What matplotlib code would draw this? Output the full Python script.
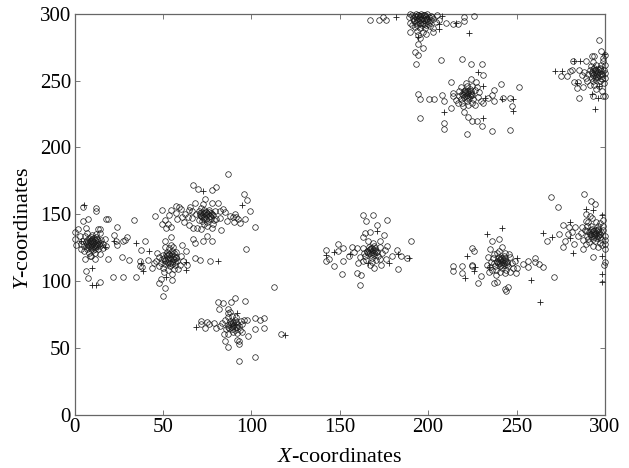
import numpy as np
import matplotlib
matplotlib.use('Agg')
import matplotlib.pyplot as plt

plt.rcParams['font.family'] = ['Liberation Serif', 'DejaVu Serif']
plt.rcParams['mathtext.fontset'] = 'custom'
plt.rcParams['mathtext.it'] = 'Liberation Serif:italic'
plt.rcParams['mathtext.rm'] = 'Liberation Serif'

# circles, one list per cluster
cluster_a = [(4.7,155.5),(11.9,154.7),(11.9,152.4),(4.7,144.7),(7.7,146.4),(17.9,146.4),(18.9,146.4),(23.8,140.4),
    (33.8,145.4),(0.4,136.6),(1.7,138.6),(6.6,139.6),(13.2,139.1),(14.5,138.9),(22.6,134.1),(29.8,132.8),(28.3,130.8),
    (27.7,129.6),(23.6,129.8),(24,126.6),(0.4,131.6),(0.6,126.6),(39.6,129.6),(37.7,123.3),(26.8,118.3),(30.7,115.5),
    (18.7,116.3),(5.8,116.3),(11.5,116.5),(8.5,118.5),(6.6,107.2),(7.7,102.2),(14.5,99.2),(21.9,103.2),(27.7,103.2),(34.7,103.2),
    (36.8,114.8),(36.8,111.5),(38.1,110.2),(41.5,115.8),
    (10.4,128.3),(9.5,127.5),(11.2,129.4),(8.8,129.8),(12.3,127.1),(10.1,130.6),(7.9,127.2),(11.8,125.6),(9.2,125.2),(13.4,129.2),
    (6.5,129.4),(10.8,132.5),(8.2,132.1),(14.2,126.4),(5.6,126.2),(12.6,131.8),(7.2,124.3),(10.4,123.4),(15.1,130.5),(4.4,130.2),
    (13.3,123.8),(6.1,133.4),(9.8,134.8),(15.9,127.8),(3.4,127.6),(12.4,134.9),(16.2,124.6),(5.2,122.7),(8.4,121.2),(11.7,120.9),
    (3.8,123.9),(14.2,135.8),(7.1,136.1),(17.3,131.8),(2.9,133.6),(14.4,120.2),(9.3,119.1),(17.8,126.2)]
core_a = [(8.5,128.9),(11,126.2),(9.1,130.3),(12.7,127.8),(7.8,129.3),(10.1,131.2),(11.6,130.9),(8.1,125.9),(12.5,125.9),(10.4,125.1),
    (13.6,127.8),(6.9,127.8),(13.2,130.6),(7.2,130.9),(9.6,124.1),(11.6,123.9),(6.8,125.3),(14.6,128.6),(9.4,132.9),(12.4,133)]
cluster_b = [(50.9,130.3),(54.7,132.8),(60.9,126.6),(67,131.6),(67.9,128.3),(62.8,122.8),(72.6,129.8),(75.1,133.6),(77.9,130.3),
    (67.9,117.3),(70.9,115.5),(76.8,115.3),(96.8,123.6),(49,101.2),(47.7,98.2),(54.9,100.4),(50.9,94.4),(50,89.1),
    (53.8,117.3),(52.9,116.4),(54.8,118.4),(52.2,118.8),(55.6,116.2),(53.4,120.2),(51.1,115.7),(56.4,119.1),(53.1,114.3),(55.2,113.9),
    (50.2,119.6),(57.6,117),(52.4,122),(55.1,122.4),(49.4,116.6),(58.2,114.8),(51.2,112.6),(54.2,111.6),(47.6,118.2),(57.2,121.6),
    (48.8,113.7),(56.8,111.7),(53.3,124.4),(55.8,125.3),(51.4,125.6),(46.2,115.3),(59.4,112),(60.3,118.4),(49.8,109.8),(53,108.2),
    (56.2,108.8),(58.7,109),(46.7,121),(44.8,113.2),(43.6,109.8),(50.6,106.8),(55.3,105.5),(61.4,115),(63.4,112.3),(47.8,110.9),(54.5,127)]
core_b = [(52.5,119.4),(56.2,116.8),(51.2,115.1),(53.6,120.4),(55.1,120.1),(51.5,120.2),(56.7,114.4),(53.8,113.4),(57.2,118.1),(50.4,117.5),
    (56.4,120.7),(52.8,113.2),(55.4,112.6)]
cluster_c = [(67,171.8),(69.8,168.8),(77.9,168),(79.8,170.5),(86.8,179.8),(96,165.5),(97.5,160.5),(96.2,146.7),(45.8,148.7),(49.6,153.4),
    (51,145.4),(49.2,142.5),(52.8,143),(51.8,139.8),(54.7,140.5),(57.5,156),(59,155.5),(54.7,153.5),(57.5,151),(53.3,149.2),
    (60.5,154),(62.5,150.5),(64.5,153),(66.7,147),(61.8,144),(65,142),(67,139.6),(69.5,139.4),(71.5,138.9),(73,142.5),(77.5,139.5),
    (83,138.5),(68,158.5),(72.5,157.5),(77.6,158.2),(81,158.5),(74,161.5),(85,151.5),(88,149),(89.5,148),(91.2,147.7),(92.7,146.8),
    (86,145),(90,144.5),(93.5,143.2),(80,146.5),(82.5,147),(70.3,145.5),(68.5,150.2),(70.2,152.2),
    (74.5,149.2),(73.5,148.2),(75.5,150.2),(72.8,150.4),(76.4,148.4),(74.2,151.5),(71.9,147.6),(77.1,151.1),(74.4,146.8),(76.1,146.4),
    (70.8,149.4),(78.5,149.2),(73.2,153.5),(76,153.4),(72,145.2),(78.8,145.8),(75,144.2),(79.4,152.4),(71.6,154.7),(66.5,152.8),(64,147.8),
    (60.8,148),(58.2,146.5),(82,152.5),(84.2,154),(102,140.5),(99.5,152.5),(91,150.5),(65.5,155.5),(78.5,142.5),(75,141.2)]
core_c = [(73.4,151.2),(76.9,148.9),(71.8,148.5),(74.6,152),(76.1,151.9),(72.3,152),(77.4,147.2),(73.5,146.3),(78,150.2),(71,150.6)]
cluster_d = [(113,95.2),(90.9,87.2),(96.7,85.2),(88.6,83.9),(80.9,83.9),(83.7,83.2),(81.8,79.2),(86.9,78.9),(87.7,77.1),(86.7,76.4),
    (71.6,70.1),(71.6,67.6),(74.9,69.4),(76,68.1),(73.9,65.1),(78.8,68.9),(97.7,71.1),(102,72.1),(104.7,71.1),(106.9,72.1),
    (102,64),(106.9,65.1),(97.9,58.8),(116.9,60),(84.9,55),(86.9,50.8),(91.8,55.8),(92.8,55),(92.8,52.5),(101.8,43),(92.8,40),
    (89.6,66.3),(88.9,65.4),(90.4,67.4),(88.2,67.8),(91.2,65.2),(89.4,68.9),(87.5,65),(91.9,68.1),(89.2,63.8),(90.8,63.5),
    (86.6,67.2),(92.8,66),(88,70.4),(91,70.7),(85.5,63.8),(93.6,63.1),(89.5,61.5),(92,61),(86.7,60.5),(84.3,60.2),
    (94,70.2),(95,67.7),(85.3,71),(82.2,66.2),(80.3,64.5),(83.6,68.6),(87,72.8),(89.3,73.5),(91.4,73.2),(94.8,61.5),(96,70.8)]
core_d = [(88.5,68.2),(91.9,65.9),(87,65.9),(89.9,69.2),(91.2,69)]
cluster_e = [(149.1,127.5),(151.9,124.5),(149.1,122.3),(142.1,123.5),(142.1,115.2),(144,116.2),(152.1,115.2),(147,111.2),(151,105.2),
    (157,125.3),(155.1,118.5),(159.5,124.8),(158,121.5),(160.2,113.2),(160,106.2),(162.1,104.2),(161.2,97.1),(169.5,109.5),(173.2,112.2),
    (183.2,109.2),(182.1,123.3),(184.6,118.8),(187.8,117.5),(179.3,118.5),(163,149.7),(169,149.7),(165.1,144.6),(177,145.6),(171,141.6),
    (167.2,136.6),(164.2,135.8),(162.9,133.3),(174.9,134.6),(165.9,129.8),(169,128.3),(173,129.6),(177,126.3),(190.2,130.3),
    (168,122),(167.2,121.2),(168.8,123),(166.8,123.2),(169.5,121),(167.8,124.5),(166,120.6),(170.2,123.5),(167.7,119.6),(169.2,119.3),
    (165.2,122.4),(171,122),(166.6,125.8),(169.5,126),(164.4,118.8),(171.4,118.8),(168,117.2),(172.5,125.2),(163.4,124.5),(163.5,120.7),
    (174,120.8),(165,116),(170.7,115.6),(175.6,123),(161.5,118),(176,116.6),(168.5,114.5),(167,112.3),(172.5,116.5),(163,115.2)]
core_e = [(167,124),(170.3,121.6),(165.6,121.9),(168.4,125),(169.9,124.9)]
cluster_f = [(167,295.6),(172.1,295.6),(174.2,298.1),(176,295.6),(190,300),(190,293),(190,286.8),(195.3,282.3),(194.2,277.8),(197,274.5),
    (192.8,271.8),(194.2,269.2),(193.2,262.5),(203,289.8),(203,286.6),(199,285.3),(210,293.6),(214.2,292.6),(217,292.6),(220.2,294.4),
    (220.2,297.6),(226,298.6),(196.2,296.1),(195.4,295.3),(197,297),(195,297.3),(197.8,295.2),(195.6,298.4),(193.8,295),(198.6,297.8),
    (195.2,293.6),(197,293.3),(193,297.4),(199.6,296),(194.5,299.4),(197.6,299.5),(192.2,294.8),(200.6,294),(193.8,292),(196.4,291.5),
    (199,292),(191,299.3),(201.5,298.8),(191.5,296.8),(203,296.4),(199.6,300),(192.5,290),(195.2,289.8),(198,289.4),(201,291),
    (193,300),(196,300),(205,299),(204.4,294),(193.8,287.5),(196.8,286.5),(194.5,284.5),(191,291.5),(206,295.5),(188.9,298)]
core_f = [(195.1,298.8),(198.7,296.2),(193.6,296.3),(196.8,299.2),(198.4,299),(194.1,299.4),(199.3,294.6),(195.5,293.1),(200.2,297.5),(192.7,298.2),
    (201,295.5),(193.2,293.6),(197.7,292.6),(200.1,292.7),(202,297.9),(192,295.6)]
cluster_g = [(207.2,265.2),(219,266.5),(224.2,262.5),(230.4,262.5),(231.1,254.2),(213,249.4),(241.1,247.9),(251.3,245.1),(194.2,240),
    (195.3,236),(200.2,236),(203.2,236),(208.1,239),(209.2,235),(214.2,240.8),(214.2,238.3),(213,229.5),(195.3,222.3),(209,218),(209,214),
    (222,210),(230.4,216.2),(236.2,212),(246.2,213.2),(220.2,226.3),(222.3,222.5),(224.7,220.2),(227.4,220.2),(247.4,231.3),(246.2,237),
    (242.5,237),(237.2,243.4),(236.2,239),(237.2,235),(224.2,251.4),(227,249.4),(221.3,248.4),
    (222,239.6),(221.2,238.8),(222.8,240.6),(220.8,240.8),(223.5,238.6),(221.8,242),(220,238.2),(224.2,241),(221.7,237.2),(223.2,236.9),
    (219.2,240),(225,239.6),(220.6,243.4),(223.5,243.6),(218.4,236.4),(225.4,236.4),(222,234.8),(226.5,242.8),(217.4,242.2),(217.5,238.3),
    (228,238.2),(219,233.6),(224.7,233.2),(229.6,235),(215.5,235.6),(229,241.4),(222.5,232),(219.8,231),(226.5,231.5),(217,233),
    (221.8,246),(224.8,245.8),(218.8,245.3),(227.8,245.5),(231,233.5),(234,237)]
core_g = [(221,241.6),(224.5,239.1),(219.7,239.3),(222.6,242.6),(224,242.4),(220.1,242.4)]
cluster_h = [(296.4,280.5),(298,272.3),(300,269),(292.5,268.5),(293.5,268.5),(282,264.5),(289.2,264.5),(299,264.7),(275.3,253.2),(278.3,253.2),
    (280.2,257.2),(281.5,257.7),(285.3,258.4),(282.5,249.4),(285,248.9),(284.3,244.4),(287.4,245.4),(285.5,237.3),(293.4,238.3),(299,238.8),
    (300,238.8),(289.2,252.2),(295.3,255.4),(294.5,254.6),(296.1,256.3),(294.1,256.5),(296.8,254.4),(294.9,257.8),(293.1,254.2),(297.5,257),
    (294.7,253),(296.2,252.7),(292.4,256.2),(298.3,255.4),(293.9,259.2),(296.9,259.4),(291.5,258.2),(299.2,258.4),(292.6,252),(298.5,251.5),
    (295.1,250.4),(297.2,249.6),(293.3,249.8),(300,256),(295,261.5),(297.8,261.8),(292,261),(290.6,254.8),(288,256.8),(287,254),(290,249.5),
    (293.8,246.5),(296.7,246),(299.7,248),(300,252),(298.5,242),(295,243.5),(293.2,263.8),(298.6,267),(291.3,247),(300,261.5)]
core_h = [(294.3,258),(297.7,255.3),(292.9,255.5),(295.8,258.9),(297.2,258.6),(293.3,258.7),(298.2,253.8),(294.4,252.4)]
cluster_i = [(213.9,111.3),(213.9,107.3),(219,111.3),(219,106.3),(225,124.6),(226.2,122.3),(225,112.3),(225,111.3),(230.1,104),(228.1,98.2),
    (233,112.3),(236.2,129.6),(240,131.1),(241.7,125.6),(234.9,123.6),(240,122.3),(237.1,98.2),(239.2,99.5),(243.4,94.2),(245.2,95.2),(244.1,92.2),
    (260.3,117.3),(260.3,114.3),(262.4,112.5),(265.2,110.3),(256.2,115.3),(256.2,110.3),(253.4,112.5),(249.4,106.2),(250.3,109.5),(271.1,103.2),
    (241.5,114.5),(240.7,113.7),(242.3,115.5),(240.4,115.7),(243,113.5),(241.3,116.9),(239.5,113.2),(243.7,116),(241.2,112.2),(242.7,111.9),
    (238.7,115),(244.5,114.6),(240,118.3),(243,118.6),(237.8,111.4),(244.9,111.4),(241.5,109.8),(246,117.8),(236.9,117.2),(237,113.3),
    (247.5,113.2),(238.5,108.6),(244.2,108.2),(249,115.2),(235,110.6),(237,120.5),(243.5,120.7),(239,121),(233.8,118),(236,108.2),
    (240.8,106.5),(243.6,105.8),(246.5,106.5),(247.8,110),(234.2,107),(245.6,120.5),(238.2,104.5),(235.5,114.5)]
core_i = [(240.5,116.7),(243.9,114.1),(239.1,114.3),(242,117.5),(243.4,117.3),(239.5,117.6),(244.4,112.8),(240.6,111.2)]
cluster_j = [(269.2,162.8),(273.2,155.5),(288.1,164.8),(292.2,160),(294.3,157.5),(289.2,150.5),(291.5,148.5),(292.8,147),(299,145.4),(289.2,144.7),
    (276,141.7),(279.8,140.4),(283,140.4),(274.1,135.4),(279.2,135.4),(281.3,136.7),(285,133.4),(287.1,140.4),(288.6,137.9),(267.1,129.6),
    (277.3,129.6),(282.2,127.6),(276,125.3),(287.3,124.3),(289.2,127.9),(293.4,118.3),(300,114.5),(299.4,112.3),(300,127.9),(300,124),
    (294.3,134.9),(293.5,134.1),(295.1,135.9),(293.1,136.1),(295.8,133.9),(294,137.2),(292.2,133.6),(296.5,136.4),(293.9,132.6),(295.4,132.3),
    (291.5,135.4),(297.2,135),(292.8,138.6),(295.8,138.8),(290.6,131.8),(297.6,131.8),(294.2,130.2),(298.8,138.2),(289.7,137.6),(289.8,133.7),
    (299.8,133.7),(291.2,129),(297,128.6),(300,130.8),(287.8,131),(292,141),(295.8,141.2),(298.8,141.5),(289.6,141.2),(286.6,136),
    (290.5,144.5),(294.8,144.2),(297.4,143.8),(293,126.4),(296.2,125.8),(298.5,126.6)]
core_j = [(293.3,137.4),(296.7,134.7),(291.9,134.9),(294.8,138.3),(296.2,138),(292.3,138.1),(297.2,133.2),(293.4,131.8),(298,136.6),(291.1,136.8)]

# plus signs
plus_x = [5.1,10,9.8,12.3,3.8,17,22.1,34.7,41.9,37.7,38.7,51.9,62.8,81.1,72.6,94.9,63.2,
    181.7,207.9,206,206,223.2,194.3,215.7,228.3,231.1,232.3,241.5,248.1,248.1,231.1,209,
    271.7,275.5,282.6,285.8,294.3,292.5,296.2,299.6,284.3,296.8,
    280.1,265,270.1,280.1,282,289,293.4,298.5,298.5,298.5,298.5,
    233,242,222,226.4,225.8,221.1,250.3,258,263.2,234.5,
    68.8,118.8,91.8,142.1,147,155.7,170.8,165.7,178,183,189.3]
plus_y = [156.7,110,97,97,129.8,125.3,129.8,128.6,122.5,113.5,107.7,102.7,108.5,115.3,167.5,156.7,114,
    297.6,298.6,292.6,289,285.6,282.8,293,256.7,246.4,237,236.6,236.6,227,222.3,226.3,
    257.4,257.4,264.5,264.5,229,240,237,269.7,248.4,246.4,
    144.4,135.9,132.6,132.4,121.3,154.2,153.5,149.2,119,105.2,99,
    135.4,139.7,118.6,110.3,107.2,102.2,117.3,100.5,84.1,110.8,
    65.8,59.3,75.9,119.5,121.5,120.3,137.8,113.2,113.2,120.3,117.5]

x_ticks = [0, 50, 100, 150, 200, 250, 300]
y_ticks = [0, 50, 100, 150, 200, 250, 300]

fig = plt.figure(figsize=(6.29, 4.68), dpi=100)
ax = fig.add_axes([74.5/629, 1-414.5/468, 530.5/629, 400.5/468])

clusters = [cluster_a, core_a, cluster_b, core_b, cluster_c, core_c, cluster_d, core_d, cluster_e, core_e,
            cluster_f, core_f, cluster_g, core_g, cluster_h, core_h, cluster_i, core_i, cluster_j, core_j]
for c in clusters:
    pts = np.array(c)
    ax.plot(pts[:, 0], pts[:, 1], 'o', mfc='none', mec='#1a1a1a', ms=4.0, mew=0.5, clip_on=False, zorder=3)
ax.plot(plus_x, plus_y, '+', color='#1a1a1a', ms=5, mew=0.6, clip_on=False, zorder=3)

ax.set_xlim(0, 300)
ax.set_ylim(0, 300)
ax.set_xticks(x_ticks)
ax.set_yticks(y_ticks)
ax.tick_params(direction='in', top=True, right=True, length=3.6, width=0.7, color='#777777',
               labelsize=15, pad=2.5)
for s in ax.spines.values():
    s.set_linewidth(0.9)
    s.set_color('#666666')
ax.set_xlabel(r'$\mathit{X}$-coordinates', fontsize=16, labelpad=8)
ax.set_ylabel(r'$\mathit{Y}$-coordinates', fontsize=16, labelpad=5, y=0.466)

fig.savefig('out.png', dpi=100)
